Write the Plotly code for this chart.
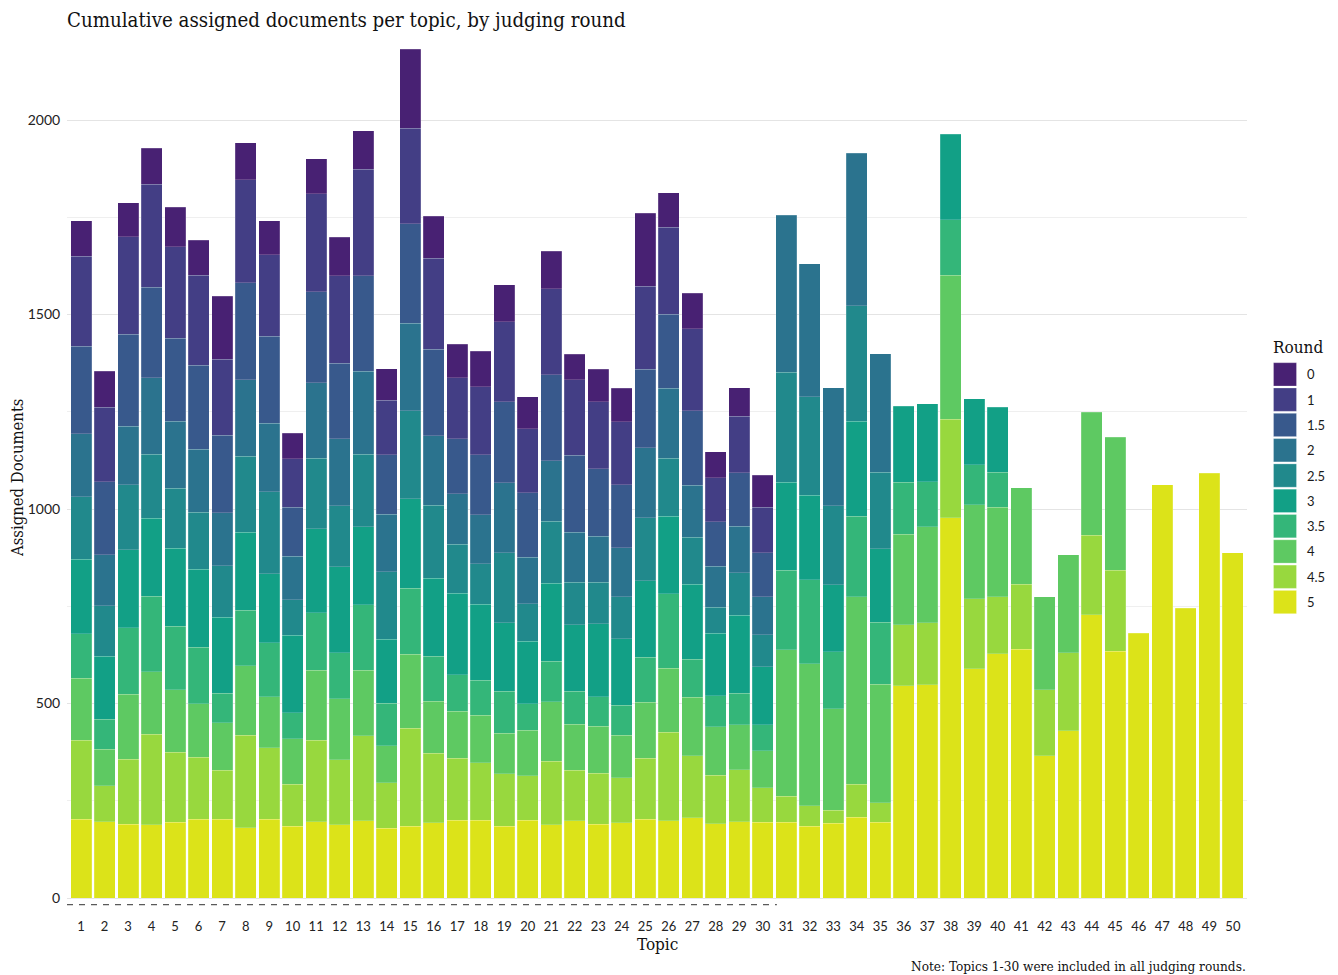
import plotly.graph_objects as go

# ---------------- data ----------------
topics = list(range(1, 51))
round_labels = ["0", "1", "1.5", "2", "2.5", "3", "3.5", "4", "4.5", "5"]
round_colors = ["#482173", "#433E85", "#38598C", "#2B738E", "#21898C",
                "#12A086", "#34B679", "#5EC962", "#98D83E", "#DCE319"]

# documents assigned in each round, per topic (topics 1..50)
r5 = [203, 196, 189, 188, 195, 202, 203, 181, 203, 184,
      196, 188, 198, 179, 185, 194, 200, 200, 185, 200,
      188, 198, 189, 193, 203, 198, 206, 191, 196, 195,
      195, 184, 192, 208, 195, 546, 548, 978, 589, 628,
      640, 366, 430, 728, 634, 680, 1062, 745, 1092, 887]
r4_5 = [203, 92, 168, 233, 180, 160, 126, 238, 183, 109,
        210, 167, 219, 117, 252, 178, 159, 148, 134, 114,
        164, 131, 132, 116, 156, 228, 160, 125, 134, 89,
        67, 53, 34, 85, 50, 156, 159, 253, 180, 146,
        166, 169, 200, 205, 209, 0, 0, 0, 0, 0]
r4 = [159, 94, 167, 160, 160, 137, 122, 178, 131, 116,
      180, 157, 169, 95, 190, 134, 121, 122, 105, 117,
      153, 118, 121, 110, 144, 164, 150, 124, 116, 94,
      376, 365, 260, 482, 304, 233, 248, 370, 242, 231,
      248, 240, 253, 316, 342, 0, 0, 0, 0, 0]
r3_5 = [114, 77, 171, 195, 164, 145, 76, 143, 139, 67,
        147, 118, 168, 110, 169, 116, 94, 90, 108, 68,
        104, 85, 76, 77, 116, 192, 98, 80, 81, 67,
        204, 216, 147, 207, 160, 134, 115, 142, 103, 89,
        0, 0, 0, 0, 0, 0, 0, 0, 0, 0]
r3 = [192, 163, 200, 200, 200, 201, 195, 200, 178, 200,
      216, 221, 201, 164, 230, 200, 209, 195, 175, 161,
      200, 170, 187, 170, 197, 199, 192, 161, 200, 149,
      227, 218, 172, 243, 189, 195, 201, 220, 170, 167,
      0, 0, 0, 0, 0, 0, 0, 0, 0, 0]
r2_5 = [161, 129, 167, 165, 154, 147, 132, 196, 210, 91,
        182, 157, 186, 174, 226, 188, 127, 104, 180, 96,
        160, 110, 107, 109, 162, 150, 122, 66, 109, 83,
        282, 253, 204, 297, 197, 0, 0, 0, 0, 0,
        0, 0, 0, 0, 0, 0, 0, 0, 0, 0]
r2 = [161, 131, 151, 197, 173, 161, 137, 196, 176, 111,
      194, 172, 213, 148, 225, 178, 129, 126, 181, 120,
      155, 128, 118, 125, 180, 180, 133, 106, 120, 97,
      404, 342, 303, 392, 304, 0, 0, 0, 0, 0,
      0, 0, 0, 0, 0, 0, 0, 0, 0, 0]
r1_5 = [226, 188, 236, 232, 213, 216, 199, 249, 224, 126,
        233, 195, 245, 152, 256, 223, 141, 154, 208, 166,
        221, 198, 173, 162, 201, 190, 192, 114, 137, 113,
        0, 0, 0, 0, 0, 0, 0, 0, 0, 0,
        0, 0, 0, 0, 0, 0, 0, 0, 0, 0]
r1 = [231, 191, 251, 265, 235, 232, 195, 265, 209, 125,
      253, 225, 275, 141, 246, 234, 157, 175, 205, 164,
      221, 194, 173, 162, 213, 223, 210, 113, 146, 117,
      0, 0, 0, 0, 0, 0, 0, 0, 0, 0,
      0, 0, 0, 0, 0, 0, 0, 0, 0, 0]
r0 = [91, 93, 87, 92, 102, 90, 162, 96, 88, 66,
      90, 99, 99, 80, 203, 107, 86, 92, 96, 83,
      96, 66, 83, 86, 188, 89, 91, 67, 73, 83,
      0, 0, 0, 0, 0, 0, 0, 0, 0, 0,
      0, 0, 0, 0, 0, 0, 0, 0, 0, 0]

round_values = [r0, r1, r1_5, r2, r2_5, r3, r3_5, r4, r4_5, r5]
all_rounds_topics = 30   # topics 1-30 were in all judging rounds
y_ticks = [0, 500, 1000, 1500, 2000]

# ---------------- layout geometry ----------------
# the page has an 8px body margin; figure fills the rest of the 1338x975 window
OFF = 8
W, H = 1338 - OFF, 975 - OFF
PL, PR, PT, PB = 67, 1247, 40, 910          # panel edges in page pixels
L, T = PL - OFF, PT - OFF
R, B = W - (PR - OFF), H - (PB - OFF)
PW, PH = PR - PL, PB - PT
ZERO_Y = 898                                # page pixel of y = 0
SCALE = 0.389                               # pixels per document


def px(x):
    return (x - PL) / PW


def py(y):
    return (PB - y) / PH


SERIF = "DejaVu Serif Condensed, DejaVu Serif, serif"
SANS = "Lato, Open Sans, sans-serif"

fig = go.Figure()
# stack from round 5 (bottom) up to round 0 (top)
for label, color, vals in reversed(list(zip(round_labels, round_colors, round_values))):
    fig.add_trace(go.Bar(
        x=topics,
        y=[v if v else None for v in vals],
        name=label,
        width=0.9,
        marker=dict(color=color, line=dict(color="rgba(255,255,255,0.35)", width=0.5)),
        showlegend=False,
    ))

# dashed line under topics included in all rounds
fig.add_shape(type="line", xref="x", yref="y",
              x0=0.4, x1=all_rounds_topics + 0.6, y0=-17, y1=-17,
              line=dict(color="#5a5a5a", width=1.3, dash="6px,6px"))

# custom legend
annotations = []
box_top0, box_step, box_size = 362.7, 25.3, 23.3
for i, (label, color) in enumerate(zip(round_labels, round_colors)):
    top = box_top0 + i * box_step
    fig.add_shape(type="rect", xref="paper", yref="paper",
                  x0=px(1273.5), x1=px(1296.5), y0=py(top + box_size), y1=py(top),
                  fillcolor=color, line=dict(color="rgba(255,255,255,0.5)", width=0.5))
    annotations.append(dict(xref="paper", yref="paper", x=px(1305), y=py(top + box_size / 2),
                            text=label, showarrow=False, xanchor="left", yanchor="middle",
                            font=dict(family=SANS, size=13, color="#1a1a1a")))
annotations.append(dict(xref="paper", yref="paper", x=px(1271), y=py(347),
                        text="Round", showarrow=False, xanchor="left", yanchor="middle",
                        font=dict(family=SERIF, size=17, color="#111")))
# axis titles and note
annotations.append(dict(xref="paper", yref="paper", x=px(17), y=py(478),
                        text="Assigned Documents", showarrow=False, textangle=-90,
                        xanchor="center", yanchor="middle",
                        font=dict(family=SERIF, size=16.5, color="#111")))
annotations.append(dict(xref="paper", yref="paper", x=px(657), y=py(944),
                        text="Topic", showarrow=False, xanchor="center", yanchor="middle",
                        font=dict(family=SERIF, size=17, color="#111")))
annotations.append(dict(xref="paper", yref="paper", x=px(1248), y=py(966),
                        text="Note: Topics 1-30 were included in all judging rounds.",
                        showarrow=False, xanchor="right", yanchor="middle",
                        font=dict(family=SERIF, size=13.5, color="#111")))

fig.update_layout(
    width=W, height=H,
    margin=dict(l=L, r=R, t=T, b=B, autoexpand=False),
    barmode="stack",
    bargap=0.1,
    plot_bgcolor="white", paper_bgcolor="white",
    title=dict(text="Cumulative assigned documents per topic, by judging round",
               x=0, xref="paper", xanchor="left",
               y=1 - (20 - OFF) / H, yref="container", yanchor="middle",
               font=dict(family=SERIF, size=20.3, color="#111")),
    xaxis=dict(range=[0.4, 50.6], tickmode="array", tickvals=topics,
               ticktext=[str(t) for t in topics], showgrid=False, zeroline=False,
               ticks="outside", ticklen=4, tickcolor="rgba(0,0,0,0)",
               tickfont=dict(family=SANS, size=13, color="#222"), showline=False),
    yaxis=dict(range=[-(PB - ZERO_Y) / SCALE, (ZERO_Y - PT) / SCALE],
               tickmode="array", tickvals=y_ticks, ticktext=[str(v) for v in y_ticks],
               showgrid=True, gridcolor="#e4e4e4", gridwidth=1.2, zeroline=False,
               minor=dict(dtick=250, tick0=0, showgrid=True, gridcolor="#efefef", gridwidth=0.8),
               ticks="outside", ticklen=3, tickcolor="rgba(0,0,0,0)",
               tickfont=dict(family=SANS, size=14, color="#222"), showline=False),
    annotations=annotations,
)

fig.write_html("out.html")
